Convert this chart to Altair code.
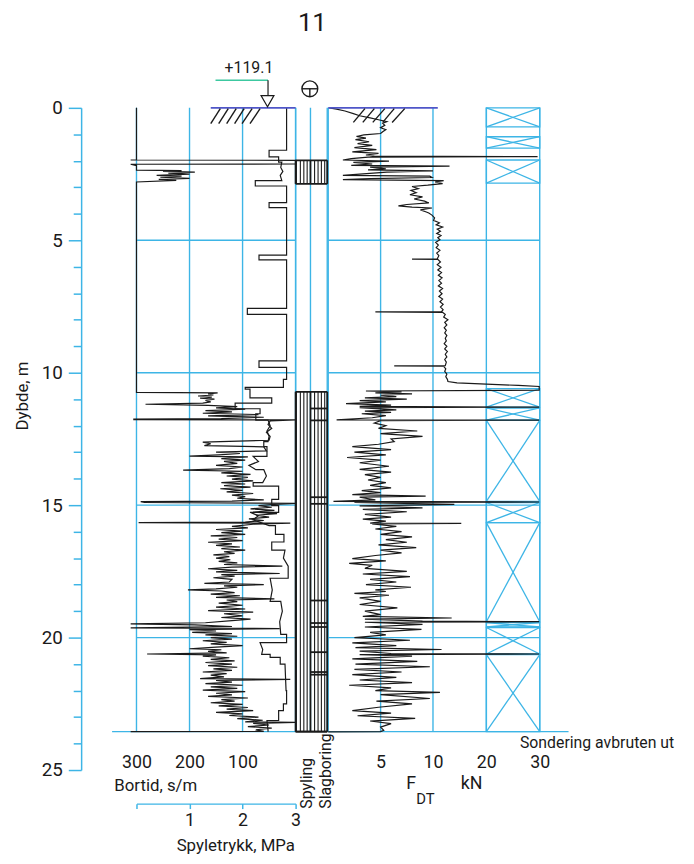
import altair as alt
import pandas as pd

FONT = "Roboto, Liberation Sans, sans-serif"
CYAN = "#3db5e6"
INK = "#1a1a1a"
GROUND = "#4f56c8"
GREEN = "#3cc8a0"

# ---------------- values ----------------
TITLE = "11"
ELEVATION = "+119.1"
DEPTH_TICKS = list(range(0, 26))
GRID_DEPTHS = [5, 10, 15, 20]
END_DEPTH = 23.55

BORTID_TICKS = [300, 200, 100]
BORTID_GRID = [300, 200, 100, 0]
PRESS_TICKS = [0, 1, 2, 3]
FDT_TICKS = [5, 10, 20, 30]
FDT_GRID = [0, 5, 10, 20, 30]

# Bortid (s/m) against depth (m)
BORTID = [
    (0.00, 300), (1.96, 300), (1.97, 311), (1.98, 0), (2.12, 0), (2.13, 311), (2.18, 300),
    (2.35, 300), (2.37, 215), (2.40, 250), (2.43, 190), (2.47, 240), (2.50, 200), (2.55, 262),
    (2.58, 215), (2.62, 255), (2.66, 200), (2.70, 258), (2.74, 225), (2.80, 300),
    (10.74, 300), (10.76, 147), (10.80, 165), (10.84, 155), (10.88, 184), (10.92, 158),
    (10.96, 180), (11.00, 153), (11.05, 170), (11.10, 160), (11.15, 175), (11.19, 283),
    (11.23, 165), (11.28, 110), (11.33, 150), (11.38, 95), (11.43, 170), (11.48, 120),
    (11.53, 175), (11.58, 70), (11.63, 165), (11.68, 60), (11.73, 140), (11.75, 305),
    (11.77, 305), (11.78, 0), (11.82, 48), (11.95, 52), (12.10, 45), (12.25, 55), (12.40, 48),
    (12.55, 50), (12.62, 175), (12.68, 160), (12.75, 172), (12.80, 60), (12.95, 55),
    (13.00, 150), (13.05, 105), (13.10, 145), (13.15, 200), (13.18, 90), (13.24, 140),
    (13.30, 95), (13.35, 135), (13.42, 110), (13.50, 150), (13.56, 100), (13.62, 125),
    (13.68, 212), (13.72, 100), (13.78, 140), (13.84, 85), (13.90, 130), (13.95, 90),
    (14.02, 120), (14.08, 80), (14.15, 140), (14.20, 95), (14.26, 135), (14.32, 85),
    (14.38, 142), (14.44, 100), (14.50, 130), (14.56, 80), (14.62, 120), (14.68, 95),
    (14.74, 110), (14.80, 60), (14.85, 120), (14.87, 292), (14.90, 285), (14.93, 0),
    (14.97, 40), (15.02, 70), (15.08, 45), (15.14, 85), (15.20, 40), (15.26, 80), (15.32, 35),
    (15.38, 75), (15.45, 50), (15.52, 88), (15.58, 60), (15.64, 95), (15.66, 296), (15.68, 10),
    (15.72, 80), (15.80, 120), (15.86, 90), (15.92, 150), (15.98, 100), (16.04, 140),
    (16.10, 95), (16.16, 160), (16.22, 110), (16.28, 145), (16.34, 100), (16.40, 165),
    (16.46, 120), (16.52, 150), (16.58, 105), (16.64, 140), (16.70, 95), (16.76, 135),
    (16.82, 115), (16.88, 155), (16.94, 125), (17.00, 150), (17.06, 123), (17.12, 145),
    (17.18, 110), (17.24, 135), (17.30, 25), (17.34, 120), (17.40, 165), (17.46, 110),
    (17.52, 150), (17.58, 30), (17.62, 140), (17.68, 115), (17.74, 155), (17.80, 120),
    (17.90, 125), (17.95, 172), (18.00, 60), (18.05, 135), (18.10, 110), (18.16, 150),
    (18.20, 203), (18.24, 140), (18.30, 115), (18.36, 160), (18.42, 105), (18.48, 150),
    (18.54, 40), (18.58, 130), (18.64, 110), (18.70, 145), (18.78, 100), (18.85, 150),
    (18.92, 95), (18.98, 165), (19.04, 80), (19.10, 135), (19.18, 100), (19.24, 140),
    (19.30, 85), (19.36, 120), (19.44, 170), (19.48, 311), (19.52, 190), (19.58, 120),
    (19.63, 311), (19.66, 30), (19.70, 200), (19.75, 150), (19.80, 195), (19.85, 120),
    (19.90, 170), (19.95, 110), (20.00, 160), (20.06, 120), (20.12, 175), (20.18, 130),
    (20.24, 160), (20.30, 100), (20.36, 150), (20.42, 200), (20.46, 140), (20.52, 165),
    (20.58, 130), (20.62, 280), (20.65, 150), (20.70, 175), (20.76, 125), (20.82, 160),
    (20.88, 115), (20.94, 170), (21.00, 120), (21.06, 165), (21.12, 110), (21.18, 155),
    (21.24, 120), (21.30, 175), (21.36, 130), (21.42, 160), (21.48, 135), (21.55, 180),
    (21.58, 10), (21.62, 150), (21.68, 120), (21.74, 170), (21.80, 100), (21.86, 160),
    (21.92, 110), (21.98, 175), (22.04, 95), (22.10, 150), (22.16, 120), (22.22, 165),
    (22.28, 90), (22.34, 140), (22.40, 115), (22.46, 160), (22.52, 100), (22.58, 145),
    (22.64, 90), (22.70, 130), (22.76, 80), (22.82, 150), (22.88, 100), (22.94, 125),
    (23.00, 70), (23.06, 110), (23.12, 62), (23.18, 95), (23.20, 0), (23.24, 80), (23.30, 50),
    (23.36, 90), (23.42, 45), (23.48, 75), (23.54, 60), (23.55, 311),
]

# Spyletrykk (MPa) against depth (m)
PRESSURE = [
    (0.00, 2.83), (1.60, 2.83), (1.60, 2.50), (1.85, 2.50), (1.85, 2.68), (2.05, 2.68),
    (2.05, 2.74), (2.25, 2.72), (2.40, 2.76), (2.55, 2.71), (2.75, 2.74), (2.75, 2.24),
    (2.95, 2.24), (2.95, 2.83), (3.58, 2.83), (3.58, 2.50), (3.77, 2.50), (3.77, 2.83),
    (5.56, 2.83), (5.56, 2.31), (5.74, 2.31), (5.74, 2.83), (7.57, 2.83), (7.57, 2.09),
    (7.80, 2.09), (7.80, 2.83), (9.55, 2.83), (9.55, 2.31), (9.80, 2.31), (9.80, 2.83),
    (10.25, 2.83), (10.25, 2.77), (10.55, 2.77), (10.55, 2.05), (10.62, 2.05), (10.62, 2.14),
    (10.95, 2.14), (10.95, 2.55), (11.15, 2.55), (11.15, 1.86), (11.36, 1.86), (11.36, 2.33),
    (11.55, 2.33), (11.55, 2.25), (11.79, 2.25), (11.79, 2.48), (12.00, 2.52), (12.20, 2.46),
    (12.40, 2.50), (12.60, 2.48), (12.60, 2.40), (12.79, 2.40), (12.79, 2.46), (13.16, 2.46),
    (13.16, 2.20), (13.35, 2.30), (13.50, 2.12), (13.66, 2.25), (13.66, 2.40), (13.90, 2.45),
    (14.15, 2.38), (14.15, 2.20), (14.28, 2.20), (14.28, 2.68), (14.78, 2.68), (14.78, 2.55),
    (15.02, 2.55), (15.02, 2.68), (15.27, 2.68), (15.27, 2.14), (15.40, 2.30), (15.55, 2.20),
    (15.77, 2.50), (15.77, 2.62), (16.10, 2.62), (16.10, 2.78), (16.39, 2.78), (16.39, 2.55),
    (16.70, 2.55), (16.70, 2.80), (17.00, 2.77), (17.30, 2.86), (17.76, 2.86), (17.76, 2.52),
    (18.20, 2.56), (18.63, 2.52), (18.63, 2.72), (19.00, 2.75), (19.40, 2.70), (19.88, 2.72),
    (19.88, 2.83), (20.19, 2.83), (20.19, 2.33), (20.45, 2.38), (20.63, 2.36), (20.63, 2.52),
    (20.75, 2.52), (20.75, 2.71), (21.00, 2.71), (21.00, 2.80), (22.00, 2.82), (22.00, 2.83),
    (22.50, 2.83), (22.50, 2.77), (22.76, 2.77), (22.76, 2.68), (23.13, 2.68), (23.13, 2.46),
    (23.50, 2.48), (23.55, 2.48),
]

# F_DT (kN) against depth (m)
FDT = [
    (0.00, 0.1), (0.05, 0.8), (0.12, 1.6), (0.22, 2.4), (0.30, 3.0), (0.38, 4.0), (0.45, 4.8),
    (0.52, 5.6), (0.58, 5.2), (0.66, 5.4), (0.75, 5.0), (0.82, 5.5), (0.90, 5.2), (0.97, 5.0),
    (1.02, 3.4), (1.08, 2.7), (1.14, 3.6), (1.20, 2.6), (1.28, 3.9), (1.35, 2.8), (1.42, 4.2),
    (1.50, 2.5), (1.58, 4.6), (1.66, 2.3), (1.72, 4.8), (1.78, 3.6), (1.82, 4.4), (1.84, 29.6),
    (1.86, 3.8), (1.92, 2.2), (1.97, 1.4), (2.01, 5.8), (2.06, 2.4), (2.12, 4.2), (2.17, 2.2),
    (2.20, 13.1), (2.24, 4.0), (2.30, 5.5), (2.34, 3.8), (2.38, 10.0), (2.43, 5.6), (2.50, 3.0),
    (2.55, 1.4), (2.58, 9.7), (2.63, 9.9), (2.67, 4.0), (2.71, 1.4), (2.75, 12.0), (2.80, 10.4),
    (2.86, 11.8), (2.92, 9.5), (2.97, 8.0), (3.05, 8.6), (3.12, 7.9), (3.20, 8.4), (3.28, 7.8),
    (3.36, 9.0), (3.44, 8.2), (3.52, 9.2), (3.59, 9.6), (3.65, 7.5), (3.70, 6.7), (3.75, 8.0),
    (3.78, 9.9), (3.85, 8.8), (3.92, 9.3), (3.97, 9.6), (4.05, 9.9), (4.15, 10.3), (4.25, 10.1),
    (4.34, 11.2), (4.42, 10.6), (4.50, 11.8), (4.58, 10.8), (4.66, 11.4), (4.74, 10.7),
    (4.82, 11.5), (4.90, 10.9), (4.98, 11.3), (5.08, 10.5), (5.18, 11.0), (5.28, 10.6),
    (5.38, 11.3), (5.48, 10.7), (5.58, 11.1), (5.70, 10.8), (5.71, 8.0), (5.72, 10.9),
    (5.82, 11.4), (5.92, 10.8), (6.02, 11.5), (6.12, 10.9), (6.22, 11.6), (6.32, 11.0),
    (6.42, 11.7), (6.52, 11.1), (6.62, 11.6), (6.72, 11.0), (6.82, 11.8), (6.92, 11.2),
    (7.02, 11.7), (7.12, 11.1), (7.22, 11.8), (7.32, 11.3), (7.42, 11.9), (7.52, 11.4),
    (7.62, 11.9), (7.69, 11.6), (7.70, 4.5), (7.72, 11.8), (7.80, 12.3), (7.90, 12.0),
    (8.00, 12.8), (8.10, 12.2), (8.20, 12.6), (8.30, 12.1), (8.40, 12.5), (8.50, 12.2),
    (8.60, 12.6), (8.70, 12.3), (8.80, 12.5), (8.90, 12.1), (9.00, 12.6), (9.10, 12.2),
    (9.20, 12.7), (9.30, 12.3), (9.40, 12.6), (9.50, 12.2), (9.60, 12.5), (9.73, 12.3),
    (9.74, 6.3), (9.76, 12.0), (9.85, 12.4), (9.95, 12.2), (10.05, 12.6), (10.15, 12.4),
    (10.25, 12.7), (10.33, 12.8), (10.38, 14.5), (10.43, 20.0), (10.48, 26.0), (10.52, 29.9),
    (10.66, 29.9), (10.69, 3.6), (10.72, 7.0), (10.76, 4.5), (10.80, 8.0), (10.85, 5.0),
    (10.90, 6.5), (10.95, 3.5), (11.00, 7.5), (11.05, 3.0), (11.10, 5.5), (11.17, 1.7),
    (11.22, 6.0), (11.27, 3.0), (11.30, 29.9), (11.32, 3.0), (11.40, 6.5), (11.45, 3.5),
    (11.50, 6.0), (11.55, 3.2), (11.62, 5.5), (11.70, 4.2), (11.78, 0.8), (11.79, 29.9),
    (11.81, 5.0), (11.90, 4.4), (12.00, 5.5), (12.10, 4.8), (12.20, 8.5), (12.30, 5.0),
    (12.40, 9.0), (12.50, 6.0), (12.60, 6.3), (12.70, 4.8), (12.79, 2.3), (12.90, 6.0),
    (13.00, 2.5), (13.10, 5.5), (13.20, 1.8), (13.30, 5.0), (13.40, 3.0), (13.53, 5.8),
    (13.65, 3.0), (13.75, 6.0), (13.85, 3.5), (13.95, 5.0), (14.05, 3.8), (14.15, 5.5),
    (14.25, 4.0), (14.35, 6.0), (14.45, 3.2), (14.53, 5.0), (14.60, 2.3), (14.66, 9.3),
    (14.70, 3.0), (14.80, 4.5), (14.86, 0.5), (14.88, 29.9), (14.90, 2.5), (14.97, 14.0),
    (15.03, 3.0), (15.10, 9.0), (15.16, 3.3), (15.25, 7.5), (15.35, 3.5), (15.45, 6.0),
    (15.53, 3.3), (15.60, 5.5), (15.68, 4.0), (15.69, 15.3), (15.71, 4.2), (15.80, 6.5),
    (15.90, 4.5), (16.00, 7.0), (16.10, 5.0), (16.20, 8.0), (16.30, 5.5), (16.40, 7.5),
    (16.50, 4.8), (16.60, 8.4), (16.70, 5.0), (16.80, 7.0), (16.90, 4.5), (17.02, 2.3),
    (17.10, 5.5), (17.20, 2.0), (17.27, 4.2), (17.39, 3.5), (17.50, 7.5), (17.60, 3.3),
    (17.70, 7.8), (17.80, 4.0), (17.90, 6.5), (18.00, 3.6), (18.10, 7.9), (18.20, 4.5),
    (18.26, 5.5), (18.33, 2.5), (18.40, 5.8), (18.50, 3.0), (18.63, 5.0), (18.75, 3.0),
    (18.88, 6.6), (19.00, 3.5), (19.13, 5.0), (19.20, 3.3), (19.26, 13.5), (19.30, 3.5),
    (19.38, 9.0), (19.40, 29.9), (19.42, 3.5), (19.50, 9.0), (19.60, 3.5), (19.69, 8.9),
    (19.80, 4.0), (19.90, 5.5), (20.00, 2.5), (20.10, 7.8), (20.20, 2.3), (20.30, 6.5),
    (20.38, 2.6), (20.45, 11.6), (20.51, 3.0), (20.60, 6.0), (20.62, 29.9), (20.64, 3.0),
    (20.70, 8.0), (20.80, 2.3), (20.90, 8.5), (21.00, 2.6), (21.10, 9.7), (21.20, 2.5),
    (21.30, 7.0), (21.40, 2.3), (21.50, 6.5), (21.60, 3.0), (21.70, 8.0), (21.80, 2.0),
    (21.90, 6.0), (22.00, 4.5), (22.07, 11.3), (22.15, 5.0), (22.30, 9.7), (22.40, 4.6),
    (22.50, 8.0), (22.63, 4.8), (22.76, 2.3), (22.85, 6.0), (22.95, 2.8), (23.05, 8.3),
    (23.15, 4.0), (23.25, 6.0), (23.38, 5.0), (23.50, 5.3), (23.55, 5.0), (23.56, 0.0),
]

# "Sondering" boxes with crosses (depth top, depth bottom)
XBOXES = [(0.0, 0.72), (1.09, 1.52), (1.97, 2.84), (10.6, 11.3), (11.33, 11.79),
          (11.8, 14.86), (14.9, 15.66), (15.66, 19.4), (19.43, 19.6), (19.62, 20.62),
          (20.64, 23.55)]

# Spyling / Slagboring column: hatched intervals, stripes, and cross lines
HATCH_INTERVALS = [(1.98, 2.87), (10.72, 23.55)]
COLUMN_STRIPES = [0.05, 0.3, 0.52, 0.73, 1.2, 1.42, 1.63, 1.84]
COLUMN_EDGES = [0.0, 0.94, 2.0]
SLAG_LINES = [11.35, 11.8, 14.7, 14.95, 18.6, 19.45, 19.6, 20.55, 21.3, 21.4]

# ground-surface hatching (bottom value, top value)
LEFT_HATCH = [(160, 142), (145, 127), (130, 112), (115, 97), (101, 82), (86, 67)]
RIGHT_HATCH = [(2.4, 3.5), (3.3, 4.4), (4.25, 5.4), (5.2, 6.3), (6.1, 7.3)]

# ---------------- scales (plot origin at page x=82, y=104) ----------------
Y = alt.Scale(domain=[0, 25], reverse=True, nice=False, zero=False)
XB = alt.Scale(domain=[0, 300], range=[217, 56], nice=False, zero=False)
XP = alt.Scale(domain=[0, 3], range=[56, 217], nice=False, zero=False)
XC = alt.Scale(domain=[0, 2], range=[217, 249], nice=False, zero=False)
XF = alt.Scale(domain=[0, 10, 30], range=[250, 356, 464], nice=False, zero=False)

YAXIS = alt.Axis(
    orient="left", values=DEPTH_TICKS,
    labelExpr="datum.value % 5 === 0 ? datum.label : ''",
    tickSize={"condition": {"test": "datum.value % 5 === 0", "value": 13}, "value": 8},
    tickColor=CYAN, tickWidth=1.5, domainColor=CYAN, domainWidth=1.5, grid=False,
    labelFont=FONT, labelFontSize=19, labelColor=INK, labelPadding=6,
    labelFlush=False, labelOverlap=False,
    title="Dybde, m", titleFont=FONT, titleFontSize=17, titleFontWeight="normal",
    titleColor=INK, titleAngle=270, titleX=-59, titleY=291,
    titleAlign="center", titleBaseline="middle",
)


def yq(field):
    return alt.Y(f"{field}:Q", scale=Y, axis=YAXIS)


def xq(field, scale, axis=None):
    return alt.X(f"{field}:Q", scale=scale, axis=axis)


def vrules(xs, y1, y2, scale, color, width=1.4):
    df = pd.DataFrame({"x": xs, "y1": [y1] * len(xs), "y2": [y2] * len(xs)})
    return alt.Chart(df).mark_rule(color=color, strokeWidth=width).encode(
        x=xq("x", scale), y=yq("y1"), y2="y2:Q")


def hrules(ys, x1, x2, scale, color, width=1.4):
    df = pd.DataFrame({"y": ys, "x1": [x1] * len(ys), "x2": [x2] * len(ys)})
    return alt.Chart(df).mark_rule(color=color, strokeWidth=width).encode(
        x=xq("x1", scale), x2="x2:Q", y=yq("y"))


def segs(rows, scale, color, width=1.3):
    df = pd.DataFrame(rows, columns=["x1", "x2", "y1", "y2"])
    return alt.Chart(df).mark_rule(color=color, strokeWidth=width).encode(
        x=xq("x1", scale), x2="x2:Q", y=yq("y1"), y2="y2:Q")


def texts(rows, scale, size=18, **kw):
    df = pd.DataFrame(rows, columns=["x", "y", "t"])
    return alt.Chart(df).mark_text(font=FONT, fontSize=size, color=INK, **kw).encode(
        x=xq("x", scale), y=yq("y"), text="t:N")


layers = []

# grid
layers.append(vrules(BORTID_GRID, 0, END_DEPTH, XB, CYAN))
layers.append(hrules(GRID_DEPTHS, 300, 0, XB, CYAN))
layers.append(hrules([END_DEPTH], 346, 0, XB, CYAN))
layers.append(vrules(COLUMN_EDGES, 0, END_DEPTH, XC, CYAN))
layers.append(vrules(FDT_GRID, 0, END_DEPTH, XF, CYAN))
layers.append(hrules(GRID_DEPTHS, 0, 30, XF, CYAN))
layers.append(hrules([END_DEPTH], 0, 35.4, XF, CYAN))

# crossed boxes
box_df = pd.DataFrame(XBOXES, columns=["top", "bot"])
box_df["a"] = 20
box_df["b"] = 30
layers.append(alt.Chart(box_df).mark_rect(fillOpacity=0, stroke=CYAN, strokeWidth=1.4).encode(
    x=xq("a", XF), x2="b:Q", y=yq("top"), y2="bot:Q"))
diag = []
for top, bot in XBOXES:
    diag.append((20, 30, top, bot))
    diag.append((20, 30, bot, top))
layers.append(segs(diag, XF, CYAN, 1.3))

# Spyling / Slagboring column hatching
stripe_rows = []
for top, bot in HATCH_INTERVALS:
    for s in COLUMN_STRIPES:
        stripe_rows.append((s, s, top, bot))
layers.append(segs(stripe_rows, XC, INK, 1.1))
edge_rows = []
for top, bot in HATCH_INTERVALS:
    for e in COLUMN_EDGES:
        edge_rows.append((e, e, top, bot))
    edge_rows.append((0, 2, top, top))
    edge_rows.append((0, 2, bot, bot))
for d in SLAG_LINES:
    edge_rows.append((0.94, 2, d, d))
layers.append(segs(edge_rows, XC, INK, 1.8))

# curves
p_df = pd.DataFrame(PRESSURE, columns=["d", "p"]).reset_index().rename(columns={"index": "i"})
layers.append(alt.Chart(p_df).mark_line(color=INK, strokeWidth=1.2).encode(
    x=xq("p", XP, alt.Axis(
        orient="bottom", values=PRESS_TICKS, offset=34, domainColor=CYAN, domainWidth=1.5,
        tickColor=CYAN, tickWidth=1.5, tickSize=5, grid=False,
        labelExpr="datum.value == 0 ? '' : datum.label", labelPadding=3, labelFlush=False,
        labelFont=FONT, labelFontSize=18, labelColor=INK,
        title="Spyletrykk, MPa", titleFont=FONT, titleFontSize=17, titleFontWeight="normal",
        titleColor=INK, titleX=156, titleY=42, titleAlign="center", titleBaseline="middle")),
    y=yq("d"), order="i:Q"))

b_df = pd.DataFrame(BORTID, columns=["d", "b"]).reset_index().rename(columns={"index": "i"})
layers.append(alt.Chart(b_df).mark_line(color=INK, strokeWidth=1.2).encode(
    x=xq("b", XB, alt.Axis(
        orient="bottom", values=BORTID_TICKS, offset=-19, domain=False, ticks=False,
        grid=False, labelPadding=2, labelFlush=False,
        labelFont=FONT, labelFontSize=18, labelColor=INK,
        title="Bortid, s/m", titleFont=FONT, titleFontSize=17, titleFontWeight="normal",
        titleColor=INK, titleX=33, titleY=35, titleAlign="left", titleBaseline="middle")),
    y=yq("d"), order="i:Q"))

f_df = pd.DataFrame(FDT, columns=["d", "f"]).reset_index().rename(columns={"index": "i"})
layers.append(alt.Chart(f_df).mark_line(color=INK, strokeWidth=1.2).encode(
    x=xq("f", XF, alt.Axis(
        orient="bottom", values=FDT_TICKS, offset=-19, domain=False, ticks=False,
        grid=False, labelPadding=2, labelFlush=False,
        labelFont=FONT, labelFontSize=18, labelColor=INK, title="")),
    y=yq("d"), order="i:Q"))

# bottom black line across the column
layers.append(segs([(0, 2, END_DEPTH, END_DEPTH)], XC, INK, 1.6))

# ground surface
layers.append(segs([(160, 0, 0, 0)], XB, GROUND, 1.6))
layers.append(segs([(0, 10.9, 0, 0)], XF, GROUND, 1.6))
layers.append(segs([(a, b, 0.6, 0.03) for a, b in LEFT_HATCH], XB, INK, 1.4))
layers.append(segs([(a, b, 0.55, 0.03) for a, b in RIGHT_HATCH], XF, INK, 1.4))

# elevation marker
layers.append(segs([(151, 52, -1.04, -1.04)], XB, GREEN, 1.4))
layers.append(segs([(52, 52, -1.04, -0.46)], XB, INK, 1.2))
tri = pd.DataFrame({"x": [53], "y": [-0.25]})
layers.append(alt.Chart(tri).mark_point(shape="triangle-down", size=170, filled=True,
                                        fill="white", stroke=INK, strokeWidth=1.2,
                                        opacity=1).encode(x=xq("x", XB), y=yq("y")))
layers.append(texts([(88, -1.5, ELEVATION)], XB, 16, align="center", baseline="middle"))

# drilling-method symbol (circle with T)
circ = pd.DataFrame({"x": [0.9], "y": [-0.72]})
layers.append(alt.Chart(circ).mark_point(shape="circle", size=256, filled=False,
                                         stroke=INK, strokeWidth=1.4, opacity=1).encode(
    x=xq("x", XC), y=yq("y")))
layers.append(segs([(0.4, 1.4, -0.72, -0.72), (0.9, 0.9, -0.72, -0.42)], XC, INK, 1.4))

# texts
layers.append(texts([(1.06, -3.2, TITLE)], XC, 26, align="center", baseline="middle"))
layers.append(texts([(0.72, 26.46, "Spyling"), (1.9, 26.46, "Slagboring")], XC, 16,
                    align="left", baseline="middle", angle=270))
layers.append(texts([(7.45, 25.52, "F"), (15.2, 25.52, "kN")], XF, 18,
                    align="left", baseline="middle"))
layers.append(texts([(26.3, 23.99, "Sondering avbruten ut")], XF, 16,
                    align="left", baseline="middle"))
layers.append(texts([(8.4, 26.1, "DT")], XF, 15, align="left", baseline="middle"))

chart = alt.layer(*layers).resolve_scale(x="independent").properties(
    width=612, height=670,
    padding={"left": 74, "top": 96, "right": 0, "bottom": 86},
    autosize=alt.AutoSizeParams(type="none"),
).configure_view(strokeOpacity=0)

chart.save("out.html", embed_options={"renderer": "svg", "actions": False})
